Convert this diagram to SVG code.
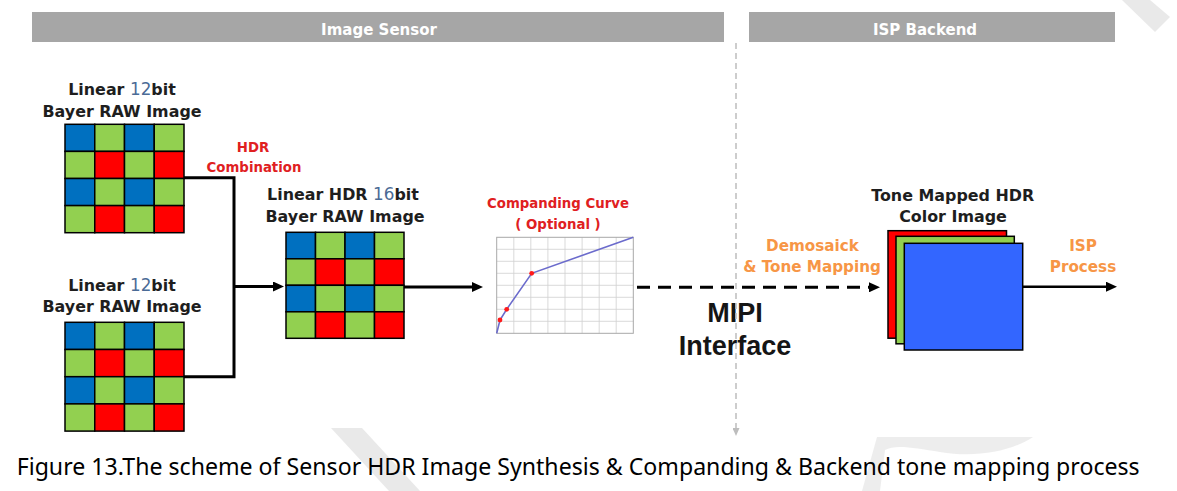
<svg xmlns="http://www.w3.org/2000/svg" width="1177" height="491" viewBox="0 0 1177 491">
<style>
.hdr{fill:#A6A6A6}
.htx{font-family:"DejaVu Sans",sans-serif;font-weight:bold;font-size:15px;fill:#fff;text-anchor:middle}
.lbl{font-family:"DejaVu Sans",sans-serif;font-weight:bold;font-size:15.9px;fill:#1e1e1e;text-anchor:middle}
.num{font-weight:normal;font-size:16.8px;fill:#4b6b96}
.red{font-family:"DejaVu Sans",sans-serif;font-weight:bold;font-size:13.3px;fill:#E0201F;text-anchor:middle}
.org{font-family:"DejaVu Sans",sans-serif;font-weight:bold;font-size:15.2px;fill:#F79646;text-anchor:middle}
.mipi{font-family:"Liberation Sans",Arial,sans-serif;font-weight:bold;font-size:27px;fill:#151515;text-anchor:middle}
.cap{font-family:"Noto Sans","Open Sans",sans-serif;font-size:23px;fill:#000}
.cb{fill:#0070C0;stroke:#000;stroke-width:1.5}
.cg{fill:#92D050;stroke:#000;stroke-width:1.5}
.cr{fill:#FF0000;stroke:#000;stroke-width:1.5}
.conn{fill:none;stroke:#000;stroke-width:3}
.grid{stroke:#cfcfcf;stroke-width:0.8}
.wm{fill:#e9e9e9}
</style>
<defs>
<marker id="ah" markerUnits="userSpaceOnUse" markerWidth="11" markerHeight="10" refX="2" refY="5" orient="auto">
<path d="M0,0 L11,5 L0,10 z" fill="#000"/>
</marker>
<marker id="ahg" markerUnits="userSpaceOnUse" markerWidth="8" markerHeight="7" refX="2" refY="3.5" orient="auto">
<path d="M0,0 L8,3.5 L0,7 z" fill="#bdbdbd"/>
</marker>
</defs>
<rect width="1177" height="491" fill="#fff"/>
<g id="watermark">
<polygon class="wm" points="1122,0 1150,0 1170,17 1155,32"/>
<polygon class="wm" points="331,428 362,428 420,491 389,491"/>
<path class="wm" d="M877,437 L1033,437 C1010,452 975,458 940,452 C915,448 895,444 885,450 L880,491 L862,491 Z" opacity="0.8"/>
</g>
<g id="header-image-sensor">
<rect class="hdr" x="32" y="12" width="692" height="30"/>
<text class="htx" x="379" y="35">Image Sensor</text>
</g>
<g id="header-isp-backend">
<rect class="hdr" x="749" y="12" width="366" height="30"/>
<text class="htx" x="925" y="35">ISP Backend</text>
</g>
<g id="raw12-top">
<text class="lbl" x="122" y="95">Linear <tspan class="num">12</tspan>bit</text>
<text class="lbl" x="122" y="116.7">Bayer RAW Image</text>
<rect class="cb" x="65" y="124.3" width="29.75" height="27.1"/><rect class="cg" x="94.75" y="124.3" width="29.75" height="27.1"/><rect class="cb" x="124.5" y="124.3" width="29.75" height="27.1"/><rect class="cg" x="154.25" y="124.3" width="29.75" height="27.1"/>
<rect class="cg" x="65" y="151.4" width="29.75" height="27.1"/><rect class="cr" x="94.75" y="151.4" width="29.75" height="27.1"/><rect class="cg" x="124.5" y="151.4" width="29.75" height="27.1"/><rect class="cr" x="154.25" y="151.4" width="29.75" height="27.1"/>
<rect class="cb" x="65" y="178.5" width="29.75" height="27.1"/><rect class="cg" x="94.75" y="178.5" width="29.75" height="27.1"/><rect class="cb" x="124.5" y="178.5" width="29.75" height="27.1"/><rect class="cg" x="154.25" y="178.5" width="29.75" height="27.1"/>
<rect class="cg" x="65" y="205.6" width="29.75" height="27.1"/><rect class="cr" x="94.75" y="205.6" width="29.75" height="27.1"/><rect class="cg" x="124.5" y="205.6" width="29.75" height="27.1"/><rect class="cr" x="154.25" y="205.6" width="29.75" height="27.1"/>
</g>
<g id="raw12-bottom">
<text class="lbl" x="122" y="290.7">Linear <tspan class="num">12</tspan>bit</text>
<text class="lbl" x="122" y="311.7">Bayer RAW Image</text>
<rect class="cb" x="65" y="322.3" width="29.75" height="27.2"/><rect class="cg" x="94.75" y="322.3" width="29.75" height="27.2"/><rect class="cb" x="124.5" y="322.3" width="29.75" height="27.2"/><rect class="cg" x="154.25" y="322.3" width="29.75" height="27.2"/>
<rect class="cg" x="65" y="349.5" width="29.75" height="27.2"/><rect class="cr" x="94.75" y="349.5" width="29.75" height="27.2"/><rect class="cg" x="124.5" y="349.5" width="29.75" height="27.2"/><rect class="cr" x="154.25" y="349.5" width="29.75" height="27.2"/>
<rect class="cb" x="65" y="376.7" width="29.75" height="27.2"/><rect class="cg" x="94.75" y="376.7" width="29.75" height="27.2"/><rect class="cb" x="124.5" y="376.7" width="29.75" height="27.2"/><rect class="cg" x="154.25" y="376.7" width="29.75" height="27.2"/>
<rect class="cg" x="65" y="403.9" width="29.75" height="27.2"/><rect class="cr" x="94.75" y="403.9" width="29.75" height="27.2"/><rect class="cg" x="124.5" y="403.9" width="29.75" height="27.2"/><rect class="cr" x="154.25" y="403.9" width="29.75" height="27.2"/>
</g>
<g id="hdr-combination-label">
<text class="red" x="253" y="151.7">HDR</text>
<text class="red" x="254" y="171.7">Combination</text>
</g>
<g id="raw16">
<text class="lbl" x="343" y="200">Linear HDR <tspan class="num">16</tspan>bit</text>
<text class="lbl" x="345" y="221.7">Bayer RAW Image</text>
<rect class="cb" x="286" y="232.3" width="29.5" height="26.5"/><rect class="cg" x="315.5" y="232.3" width="29.5" height="26.5"/><rect class="cb" x="345" y="232.3" width="29.5" height="26.5"/><rect class="cg" x="374.5" y="232.3" width="29.5" height="26.5"/>
<rect class="cg" x="286" y="258.8" width="29.5" height="26.5"/><rect class="cr" x="315.5" y="258.8" width="29.5" height="26.5"/><rect class="cg" x="345" y="258.8" width="29.5" height="26.5"/><rect class="cr" x="374.5" y="258.8" width="29.5" height="26.5"/>
<rect class="cb" x="286" y="285.3" width="29.5" height="26.5"/><rect class="cg" x="315.5" y="285.3" width="29.5" height="26.5"/><rect class="cb" x="345" y="285.3" width="29.5" height="26.5"/><rect class="cg" x="374.5" y="285.3" width="29.5" height="26.5"/>
<rect class="cg" x="286" y="311.8" width="29.5" height="26.5"/><rect class="cr" x="315.5" y="311.8" width="29.5" height="26.5"/><rect class="cg" x="345" y="311.8" width="29.5" height="26.5"/><rect class="cr" x="374.5" y="311.8" width="29.5" height="26.5"/>
</g>
<g id="companding-curve">
<text class="red" x="558" y="208.3">Companding Curve</text>
<text class="red" x="558" y="229.3">( Optional )</text>
<rect x="496.7" y="237.3" width="136.6" height="96" fill="#fff"/>
<g class="grid">
<line x1="513.8" y1="237.3" x2="513.8" y2="333.3"/><line x1="530.8" y1="237.3" x2="530.8" y2="333.3"/><line x1="547.9" y1="237.3" x2="547.9" y2="333.3"/><line x1="565" y1="237.3" x2="565" y2="333.3"/><line x1="582.1" y1="237.3" x2="582.1" y2="333.3"/><line x1="599.2" y1="237.3" x2="599.2" y2="333.3"/><line x1="616.2" y1="237.3" x2="616.2" y2="333.3"/>
<line x1="496.7" y1="249.3" x2="633.3" y2="249.3"/><line x1="496.7" y1="261.3" x2="633.3" y2="261.3"/><line x1="496.7" y1="273.3" x2="633.3" y2="273.3"/><line x1="496.7" y1="285.3" x2="633.3" y2="285.3"/><line x1="496.7" y1="297.3" x2="633.3" y2="297.3"/><line x1="496.7" y1="309.3" x2="633.3" y2="309.3"/><line x1="496.7" y1="321.3" x2="633.3" y2="321.3"/>
</g>
<rect x="496.7" y="237.3" width="136.6" height="96" fill="none" stroke="#a8a8a8" stroke-width="1"/>
<polyline points="496.7,333.3 500,320 506.7,309.3 531.7,273.3 633.3,237.3" fill="none" stroke="#6b6bcc" stroke-width="1.6"/>
<circle cx="500" cy="320" r="2.4" fill="#ff1a1a"/>
<circle cx="506.7" cy="309.3" r="2.4" fill="#ff1a1a"/>
<circle cx="531.7" cy="273.3" r="2.4" fill="#ff1a1a"/>
</g>
<g id="mipi-label">
<text class="mipi" x="735" y="321.7">MIPI</text>
<text class="mipi" x="735" y="355">Interface</text>
</g>
<g id="divider">
<path d="M736,43 V430" fill="none" stroke="#bdbdbd" stroke-width="1.5" stroke-dasharray="6 4" marker-end="url(#ahg)"/>
</g>
<g id="tone-mapped-image">
<text class="lbl" x="952.7" y="200.7">Tone Mapped HDR</text>
<text class="lbl" x="953" y="221.7">Color Image</text>
<rect x="888" y="230.7" width="118.5" height="107.5" fill="#FF0000" stroke="#000" stroke-width="1.5"/>
<rect x="896" y="236.3" width="118.3" height="107.5" fill="#92D050" stroke="#000" stroke-width="1.5"/>
<rect x="904.3" y="243.3" width="118.4" height="106.7" fill="#3366FF" stroke="#000" stroke-width="1.5"/>
</g>
<g id="demosaick-label">
<text class="org" x="812.5" y="251">Demosaick</text>
<text class="org" x="812" y="271.7">&amp; Tone Mapping</text>
</g>
<g id="isp-process-label">
<text class="org" x="1083" y="251">ISP</text>
<text class="org" x="1083" y="271.7">Process</text>
</g>
<g id="connectors">
<path class="conn" d="M184,177.7 H234 V376.7 H184"/>
<path class="conn" d="M234,286.5 H275" marker-end="url(#ah)"/>
<path class="conn" d="M404,287 H474" marker-end="url(#ah)"/>
<path class="conn" d="M637,287.3 H871" stroke-dasharray="13 8" marker-end="url(#ah)"/>
<path class="conn" style="stroke-width:2.5" d="M1022.7,286.7 H1108" marker-end="url(#ah)"/>
</g>
<text class="cap" x="16.7" y="475" textLength="1123" lengthAdjust="spacingAndGlyphs">Figure 13.The scheme of Sensor HDR Image Synthesis &amp; Companding &amp; Backend tone mapping process</text>
</svg>
